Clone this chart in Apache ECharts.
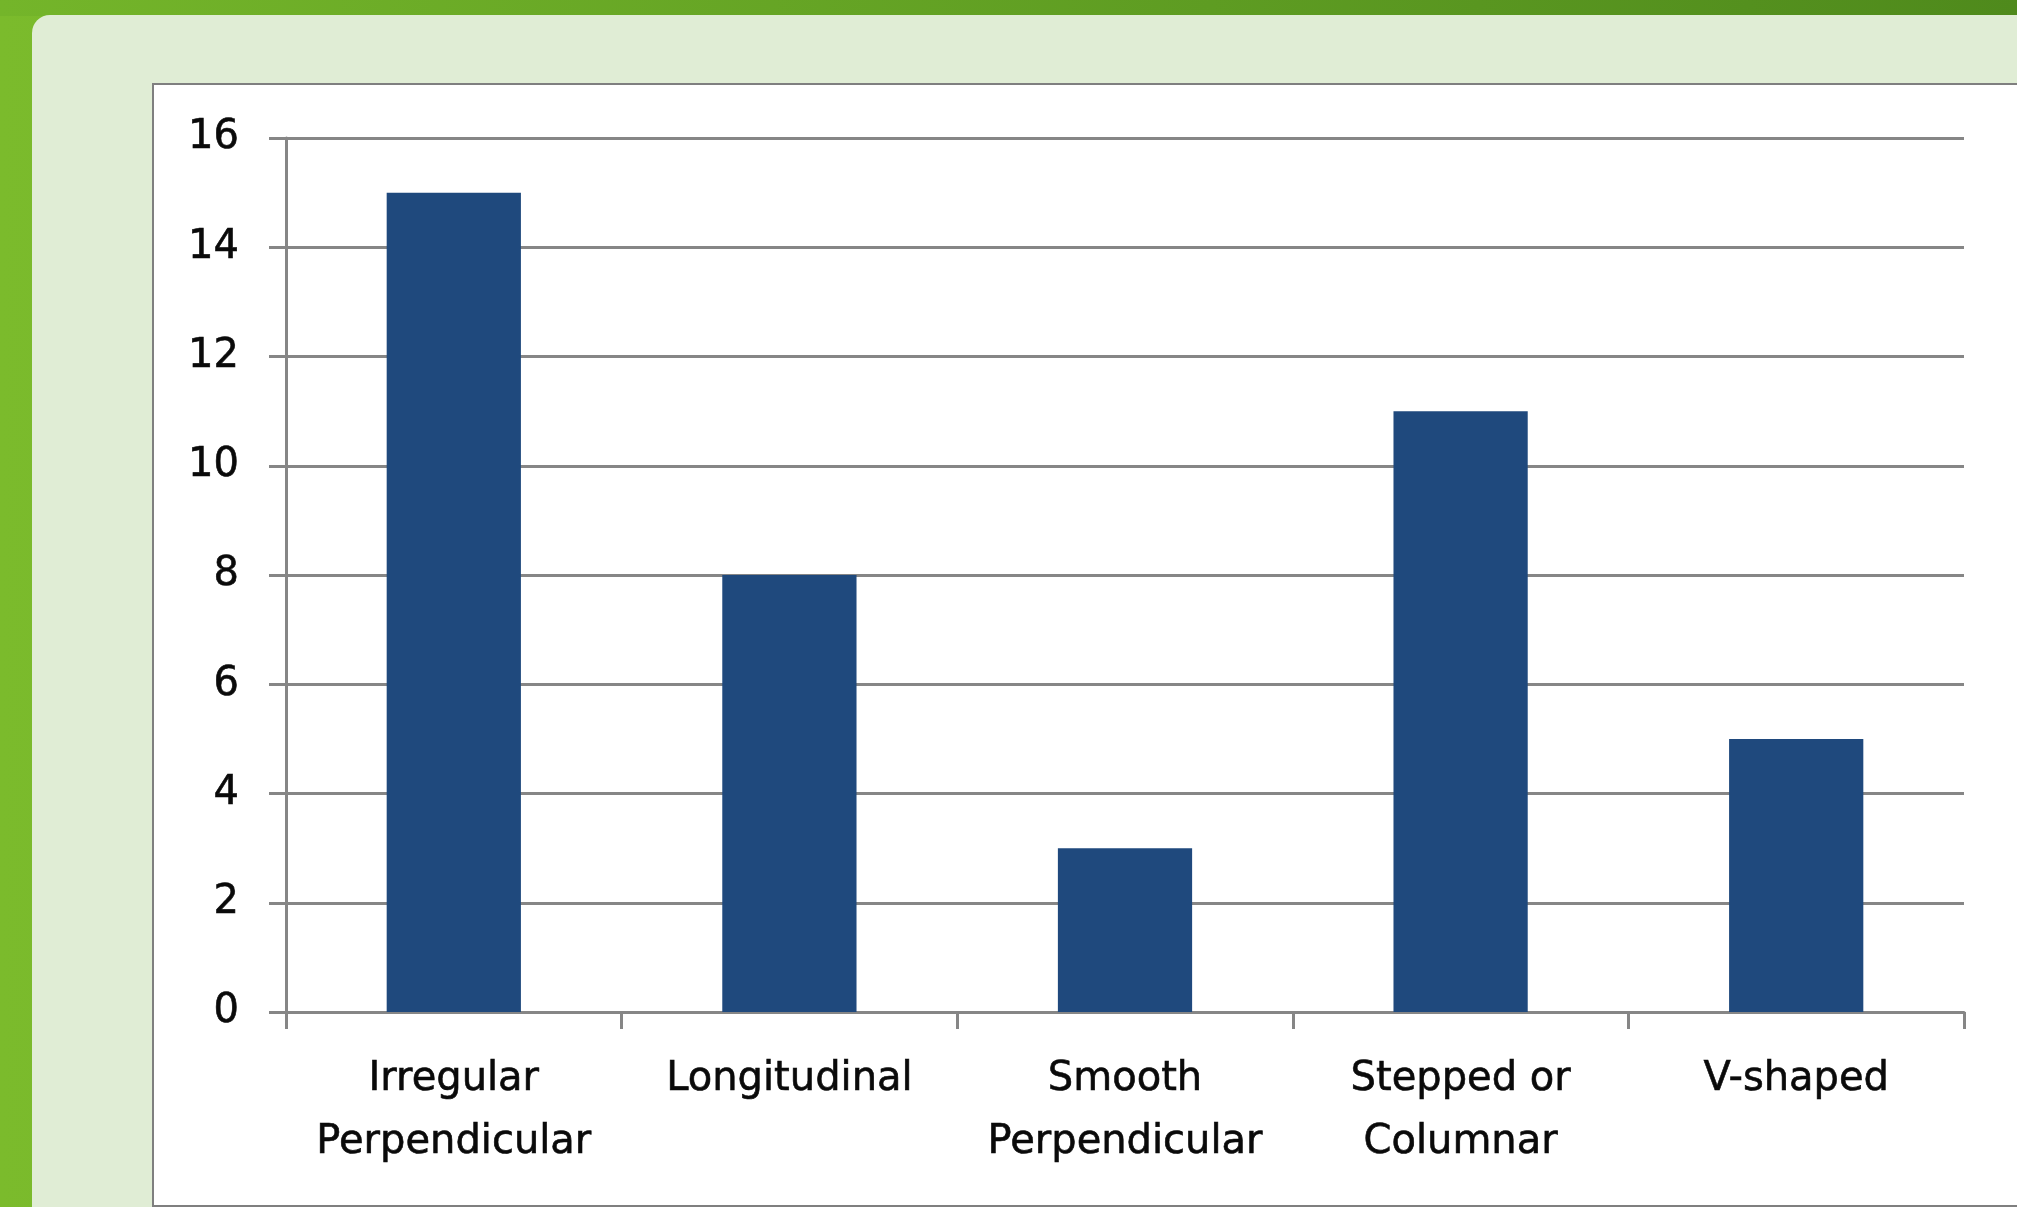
<!DOCTYPE html>
<html>
<head>
<meta charset="utf-8">
<script src="https://cdn.jsdelivr.net/npm/echarts@6/dist/echarts.min.js"></script>
<style>
  html, body { margin: 0; padding: 0; width: 2017px; height: 1207px; overflow: hidden; }
  body { background: linear-gradient(90deg, #7bbb2c 0%, #6fae28 40%, #5e9a22 100%); position: relative; }
  #top { position: absolute; left: 0; top: 0; width: 2017px; height: 16px; background: linear-gradient(90deg, #74b52a 0%, #5e9c22 60%, #4f8a1c 100%); }
  #panel { position: absolute; left: 32px; top: 15px; width: 2100px; height: 1300px; background: #e0edd5; border-radius: 18px; }
  #box { position: absolute; left: 152px; top: 83px; width: 2000px; height: 1120px; background: #ffffff; border: 2px solid #7f7f7f; }
  #chart { position: absolute; left: 0; top: 0; width: 2017px; height: 1207px; }
</style>
</head>
<body>
<div id="top"></div>
<div id="panel"></div>
<div id="box"></div>
<div id="chart"></div>
<script>
const categories = ['Irregular\nPerpendicular', 'Longitudinal', 'Smooth\nPerpendicular', 'Stepped or\nColumnar', 'V-shaped'];
const values = [15, 8, 3, 11, 5];
const yTicks = { min: 0, max: 16, interval: 2 };

const chart = echarts.init(document.getElementById('chart'), null, { renderer: 'canvas' });
const gray = '#868686';
const fontFam = '"DejaVu Sans", sans-serif';
chart.setOption({
  backgroundColor: 'transparent',
  animation: false,
  grid: { left: 286, right: 53, top: 138, bottom: 195, containLabel: false },
  xAxis: {
    type: 'category',
    data: categories,
    axisLine: { show: true, lineStyle: { color: gray, width: 3 } },
    axisTick: { show: true, length: 17, alignWithLabel: false, lineStyle: { color: gray, width: 3 } },
    axisLabel: { margin: 36, color: '#0a0a0a', fontSize: 40, fontFamily: fontFam, lineHeight: 63, interval: 0,
                 textBorderColor: '#0a0a0a', textBorderWidth: 0.6 },
    splitLine: { show: false }
  },
  yAxis: {
    type: 'value',
    min: yTicks.min, max: yTicks.max, interval: yTicks.interval,
    axisLine: { show: true, lineStyle: { color: gray, width: 3 } },
    axisTick: { show: true, length: 17, lineStyle: { color: gray, width: 3 } },
    axisLabel: { margin: 47, color: '#0a0a0a', fontSize: 40, fontFamily: fontFam, padding: [8, 0, 0, 0],
                 textBorderColor: '#0a0a0a', textBorderWidth: 0.6 },
    splitLine: { show: true, lineStyle: { color: gray, width: 3 } }
  },
  series: [{
    type: 'bar',
    data: values,
    barWidth: '40%',
    itemStyle: { color: '#1f497d' }
  }]
});
</script>
</body>
</html>
